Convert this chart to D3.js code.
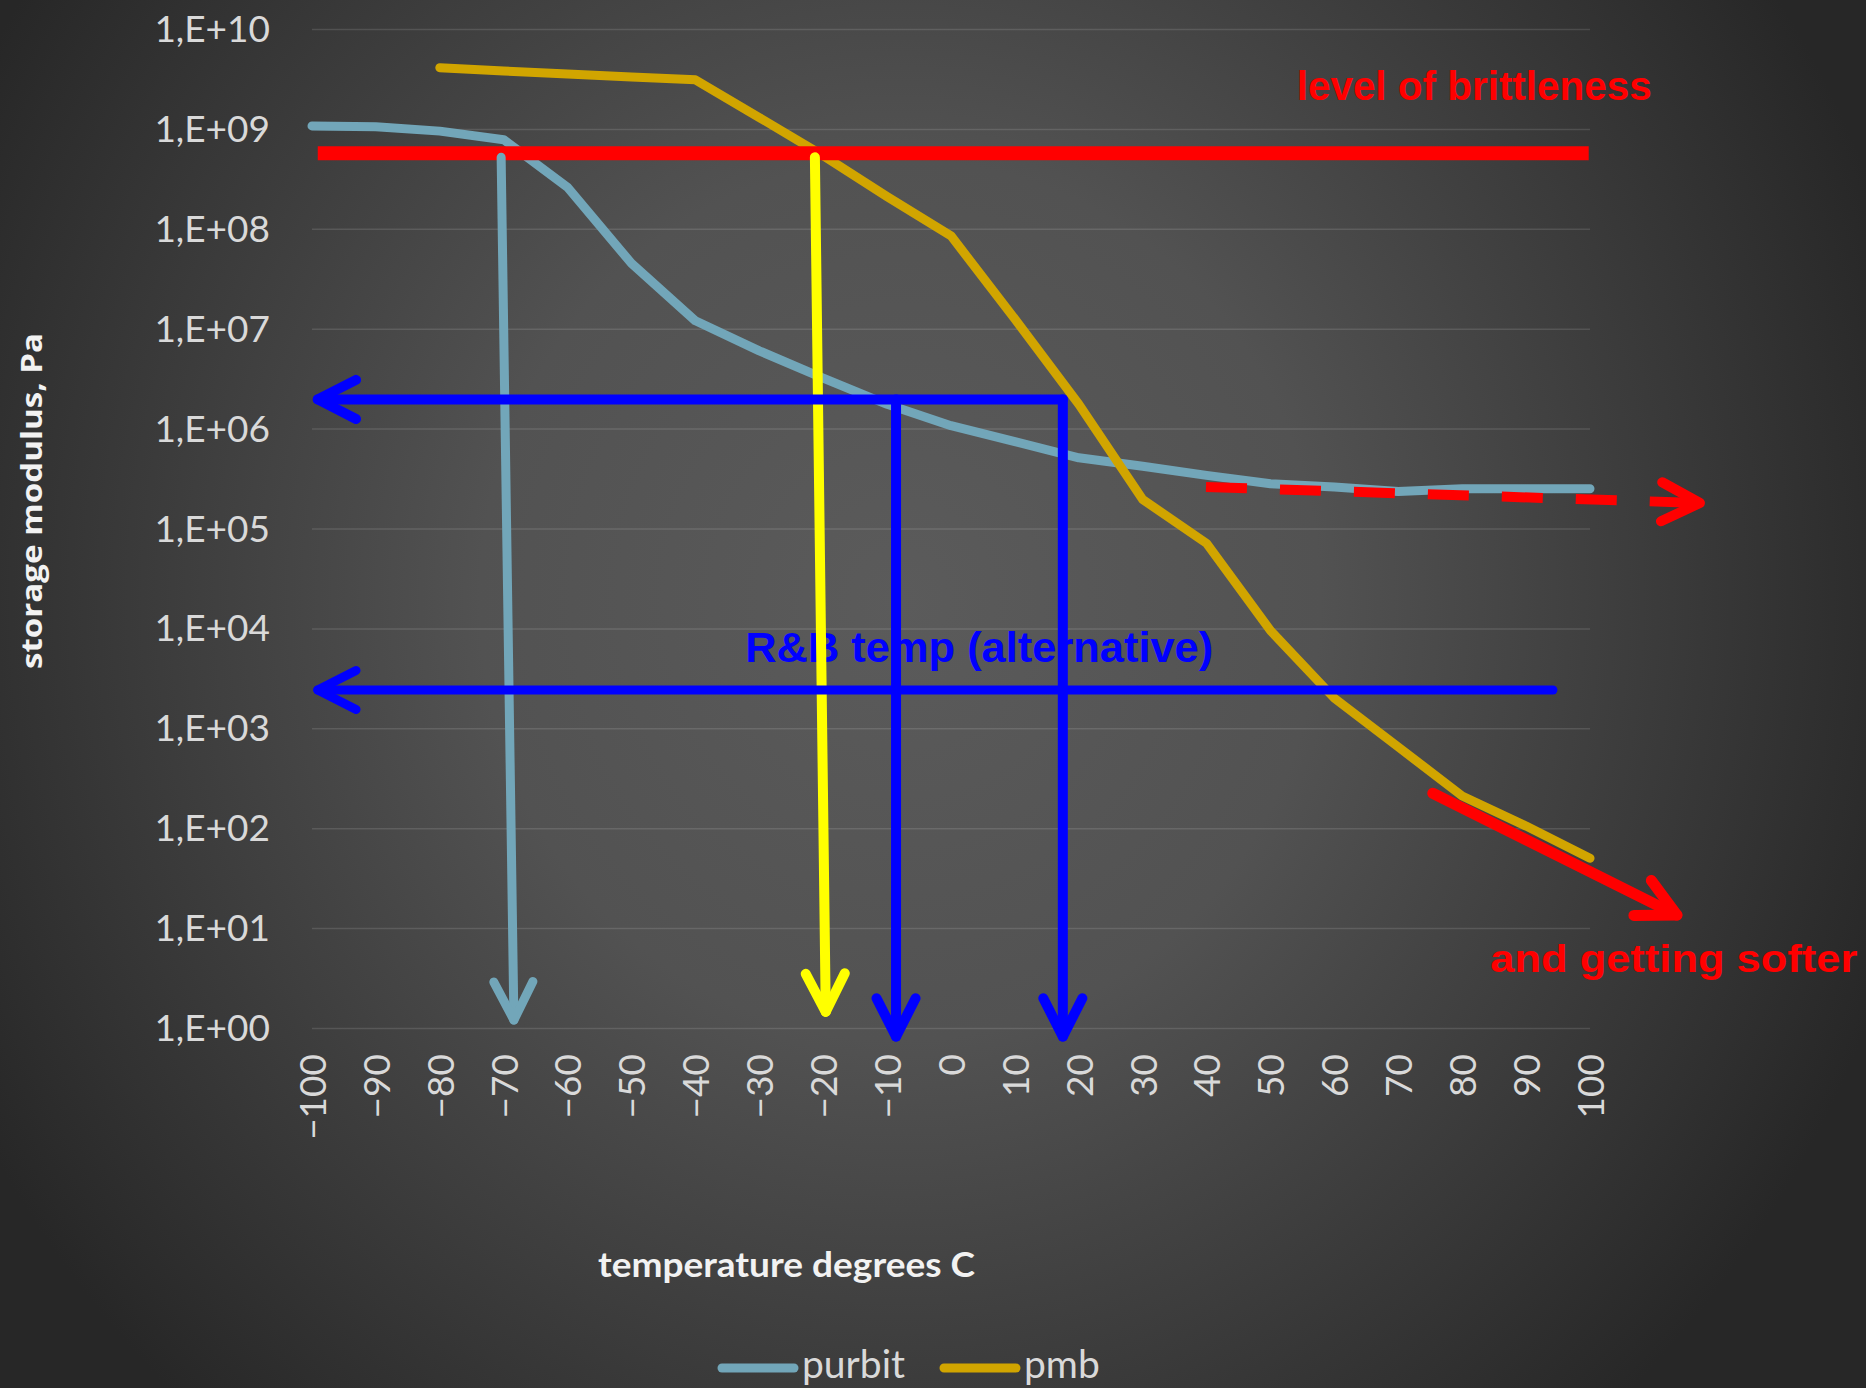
<!DOCTYPE html>
<html>
<head>
<meta charset="utf-8">
<script src="https://cdn.jsdelivr.net/npm/d3@7/dist/d3.min.js"></script>
<style>
  html, body { margin: 0; padding: 0; background: #2a2a2a; }
  svg { display: block; }
  .tick-label { font-family: Lato, "Open Sans", sans-serif; fill: #d9d9d9; }
  .note { font-family: "Liberation Sans", Arial, sans-serif; font-weight: bold; }
</style>
</head>
<body>
<svg id="chart" width="1866" height="1388"></svg>
<script>
// temperature categories (deg C)
var temps = [-100, -90, -80, -70, -60, -50, -40, -30, -20, -10, 0, 10, 20, 30, 40, 50, 60, 70, 80, 90, 100];

// storage modulus, Pa
var purbit = [1.07e9, 1.05e9, 9.5e8, 7.8e8, 2.6e8, 4.5e7, 1.2e7, 6.0e6, 3.2e6, 1.75e6, 1.07e6,
    7.4e5, 5.1e5, 4.2e5, 3.4e5, 2.8e5, 2.6e5, 2.35e5, 2.5e5, 2.5e5, 2.5e5];
var pmb = [null, null, 4.1e9, 3.8e9, 3.55e9, 3.3e9, 3.1e9, 1.3e9, 5.4e8, 2.1e8, 8.5e7,
    1.25e7, 1.75e6, 1.95e5, 7.1e4, 9.5e3, 2.0e3, 6.5e2, 2.1e2, 1.05e2, 5.0e1];

var yTicks = [1e0, 1e1, 1e2, 1e3, 1e4, 1e5, 1e6, 1e7, 1e8, 1e9, 1e10];
var xTicks = temps;

// annotation lines, in data units: [temp, modulus]
var brittleLine = [[-99.1, 5.7e8], [99.8, 5.7e8]];
var purbitDrop = [[-70.4, 5.2e8], [-68.4, 1.2]];
var pmbDrop = [[-21.3, 5.2e8], [-19.6, 1.45]];
var rbUpper = [[17.5, 1.96e6], [-99.1, 1.96e6]];
var rbDropA = [[-8.6, 1.96e6], [-8.6, 0.82]];
var rbDropB = [[17.5, 1.96e6], [17.5, 0.82]];
var rbLower = [[94.2, 2.42e3], [-99.1, 2.42e3]];
var softPlateau = [[39.9, 2.6e5], [117.2, 1.8e5]];
var softerArrow = [[75.4, 2.24e2], [113.6, 13.5]];

var notes = [
    {text: 'level of brittleness', at: [54.1, 1.95e9], len: 355, color: '#ff0000', size: 41},
    {text: 'R&B temp (alternative)', at: [-32.2, 4.65e3], len: 468, color: '#0000ff', size: 42},
    {text: 'and getting softer', at: [84.4, 3.66], len: 367, color: '#ff0000', size: 38}
];

var svg = d3.select('#chart');
var svgWidth = +svg.attr('width');
var svgHeight = +svg.attr('height');

var plot = {l: 312, r: 1590, t: 29, b: 1028};

var x = d3.scaleLinear().domain([-100, 100]).range([plot.l, plot.r]);
var y = d3.scaleLog().domain([1, 1e10]).range([plot.b, plot.t]);

// background gradient
var defs = svg.append('defs');
var grad = defs.append('radialGradient')
    .attr('id', 'bg')
    .attr('gradientUnits', 'userSpaceOnUse')
    .attr('cx', 0).attr('cy', 0).attr('r', 1)
    .attr('gradientTransform', 'translate(900,600) scale(1050,1100)');
grad.append('stop').attr('offset', 0).attr('stop-color', '#5b5b5b');
grad.append('stop').attr('offset', 0.4).attr('stop-color', '#525252');
grad.append('stop').attr('offset', 1).attr('stop-color', '#272727');

svg.append('rect')
    .attr('width', svgWidth).attr('height', svgHeight)
    .attr('fill', 'url(#bg)');

// gridlines
var yGrid = d3.axisLeft(y)
    .tickValues(yTicks)
    .tickSize(-(plot.r - plot.l))
    .tickFormat('');

svg.append('g')
    .attr('class', 'grid')
    .attr('transform', 'translate(' + plot.l + ',0)')
    .call(yGrid)
    .call(function(g) {
        g.select('.domain').remove();
        g.selectAll('line').attr('stroke', 'rgba(255,255,255,0.12)').attr('stroke-width', 1.5);
    });

// y axis labels
var fmtE = function(d) {
    var e = Math.round(Math.log10(d));
    return '1,E+' + (e < 10 ? '0' + e : e);
};

svg.append('g')
    .attr('transform', 'translate(' + plot.l + ',0)')
    .call(d3.axisLeft(y).tickValues(yTicks).tickFormat(fmtE).tickSize(0).tickPadding(42))
    .call(function(g) {
        g.select('.domain').remove();
        g.selectAll('text')
            .attr('class', 'tick-label')
            .attr('font-size', 37)
            .attr('dy', '0.34em');
    });

// x axis labels (rotated)
svg.append('g')
    .attr('transform', 'translate(0,' + plot.b + ')')
    .call(d3.axisBottom(x).tickValues(xTicks).tickFormat(d3.format('d')).tickSize(0))
    .call(function(g) {
        g.select('.domain').remove();
        g.selectAll('text')
            .attr('class', 'tick-label')
            .attr('font-size', 37)
            .attr('transform', 'rotate(-90)')
            .attr('text-anchor', 'end')
            .attr('x', -26)
            .attr('y', 0)
            .attr('dy', '0.36em');
    });

// axis titles
svg.append('text')
    .attr('transform', 'translate(42,501) rotate(-90)')
    .attr('text-anchor', 'middle')
    .attr('font-family', '"Open Sans", sans-serif')
    .attr('font-weight', 'bold')
    .attr('font-size', 29)
    .attr('fill', '#f2f2f2')
    .attr('textLength', 336)
    .attr('lengthAdjust', 'spacingAndGlyphs')
    .text('storage modulus, Pa');

svg.append('text')
    .attr('x', 598)
    .attr('y', 1277)
    .attr('font-family', 'Lato, sans-serif')
    .attr('font-weight', 'bold')
    .attr('font-size', 34)
    .attr('fill', '#f2f2f2')
    .attr('textLength', 377)
    .attr('lengthAdjust', 'spacingAndGlyphs')
    .text('temperature degrees C');

// series
var series = [
    {name: 'purbit', values: purbit, color: '#72a6b9'},
    {name: 'pmb', values: pmb, color: '#d1a500'}
];

var line = d3.line()
    .defined(function(d) { return d[1] != null; })
    .x(function(d) { return x(d[0]); })
    .y(function(d) { return y(d[1]); });

series.forEach(function(s) {
    var pts = temps.map(function(t, i) { return [t, s.values[i]]; });
    svg.append('path')
        .attr('d', line(pts))
        .attr('fill', 'none')
        .attr('stroke', s.color)
        .attr('stroke-width', 9)
        .attr('stroke-linejoin', 'round')
        .attr('stroke-linecap', 'round');
});

// annotations
function px(p) { return [x(p[0]), y(p[1])]; }

function drawSeg(pts, color, width, cap, dash) {
    var a = px(pts[0]), b = px(pts[1]);
    svg.append('line')
        .attr('x1', a[0]).attr('y1', a[1])
        .attr('x2', b[0]).attr('y2', b[1])
        .attr('stroke', color)
        .attr('stroke-width', width)
        .attr('stroke-dasharray', dash || null)
        .attr('stroke-linecap', cap);
}

// open V head at the second point
function drawHead(pts, color, width) {
    var a = px(pts[0]), tip = px(pts[1]);
    var ang = Math.atan2(a[1] - tip[1], a[0] - tip[0]);
    var len = 43, spread = 27 * Math.PI / 180;
    var p1 = [tip[0] + len * Math.cos(ang + spread), tip[1] + len * Math.sin(ang + spread)];
    var p2 = [tip[0] + len * Math.cos(ang - spread), tip[1] + len * Math.sin(ang - spread)];
    svg.append('path')
        .attr('d', 'M' + p1 + 'L' + tip + 'L' + p2)
        .attr('fill', 'none')
        .attr('stroke', color)
        .attr('stroke-width', width)
        .attr('stroke-linecap', 'round')
        .attr('stroke-linejoin', 'round');
}

function drawArrow(pts, color, width, dash) {
    drawSeg(pts, color, width, dash ? 'butt' : 'round', dash);
    drawHead(pts, color, width);
}

drawSeg(brittleLine, '#ff0000', 14, 'butt');

// R&B label sits under the drop lines
var rb = notes[1];
svg.append('text')
    .attr('class', 'note')
    .attr('x', x(rb.at[0])).attr('y', y(rb.at[1]))
    .attr('font-size', rb.size)
    .attr('fill', rb.color)
    .attr('textLength', rb.len)
    .attr('lengthAdjust', 'spacingAndGlyphs')
    .text(rb.text);

drawArrow(purbitDrop, '#72a6b9', 9);
drawArrow(pmbDrop, '#ffff00', 10);
drawArrow(rbUpper, '#0000ff', 10);
drawArrow(rbDropA, '#0000ff', 10);
drawArrow(rbDropB, '#0000ff', 10);
drawArrow(rbLower, '#0000ff', 9);
drawArrow(softPlateau, '#ff0000', 10, '41,33');
drawArrow(softerArrow, '#ff0000', 11);

[notes[0], notes[2]].forEach(function(n) {
    svg.append('text')
        .attr('class', 'note')
        .attr('x', x(n.at[0])).attr('y', y(n.at[1]))
        .attr('font-size', n.size)
        .attr('fill', n.color)
        .attr('textLength', n.len)
        .attr('lengthAdjust', 'spacingAndGlyphs')
        .text(n.text);
});

// legend
var legend = svg.append('g');
var legendX = [722, 944];
series.forEach(function(s, i) {
    legend.append('line')
        .attr('x1', legendX[i]).attr('x2', legendX[i] + 72)
        .attr('y1', 1368).attr('y2', 1368)
        .attr('stroke', s.color)
        .attr('stroke-width', 9)
        .attr('stroke-linecap', 'round');
    legend.append('text')
        .attr('class', 'tick-label')
        .attr('x', legendX[i] + 80)
        .attr('y', 1378)
        .attr('font-size', 39)
        .text(s.name);
});
</script>
</body>
</html>
